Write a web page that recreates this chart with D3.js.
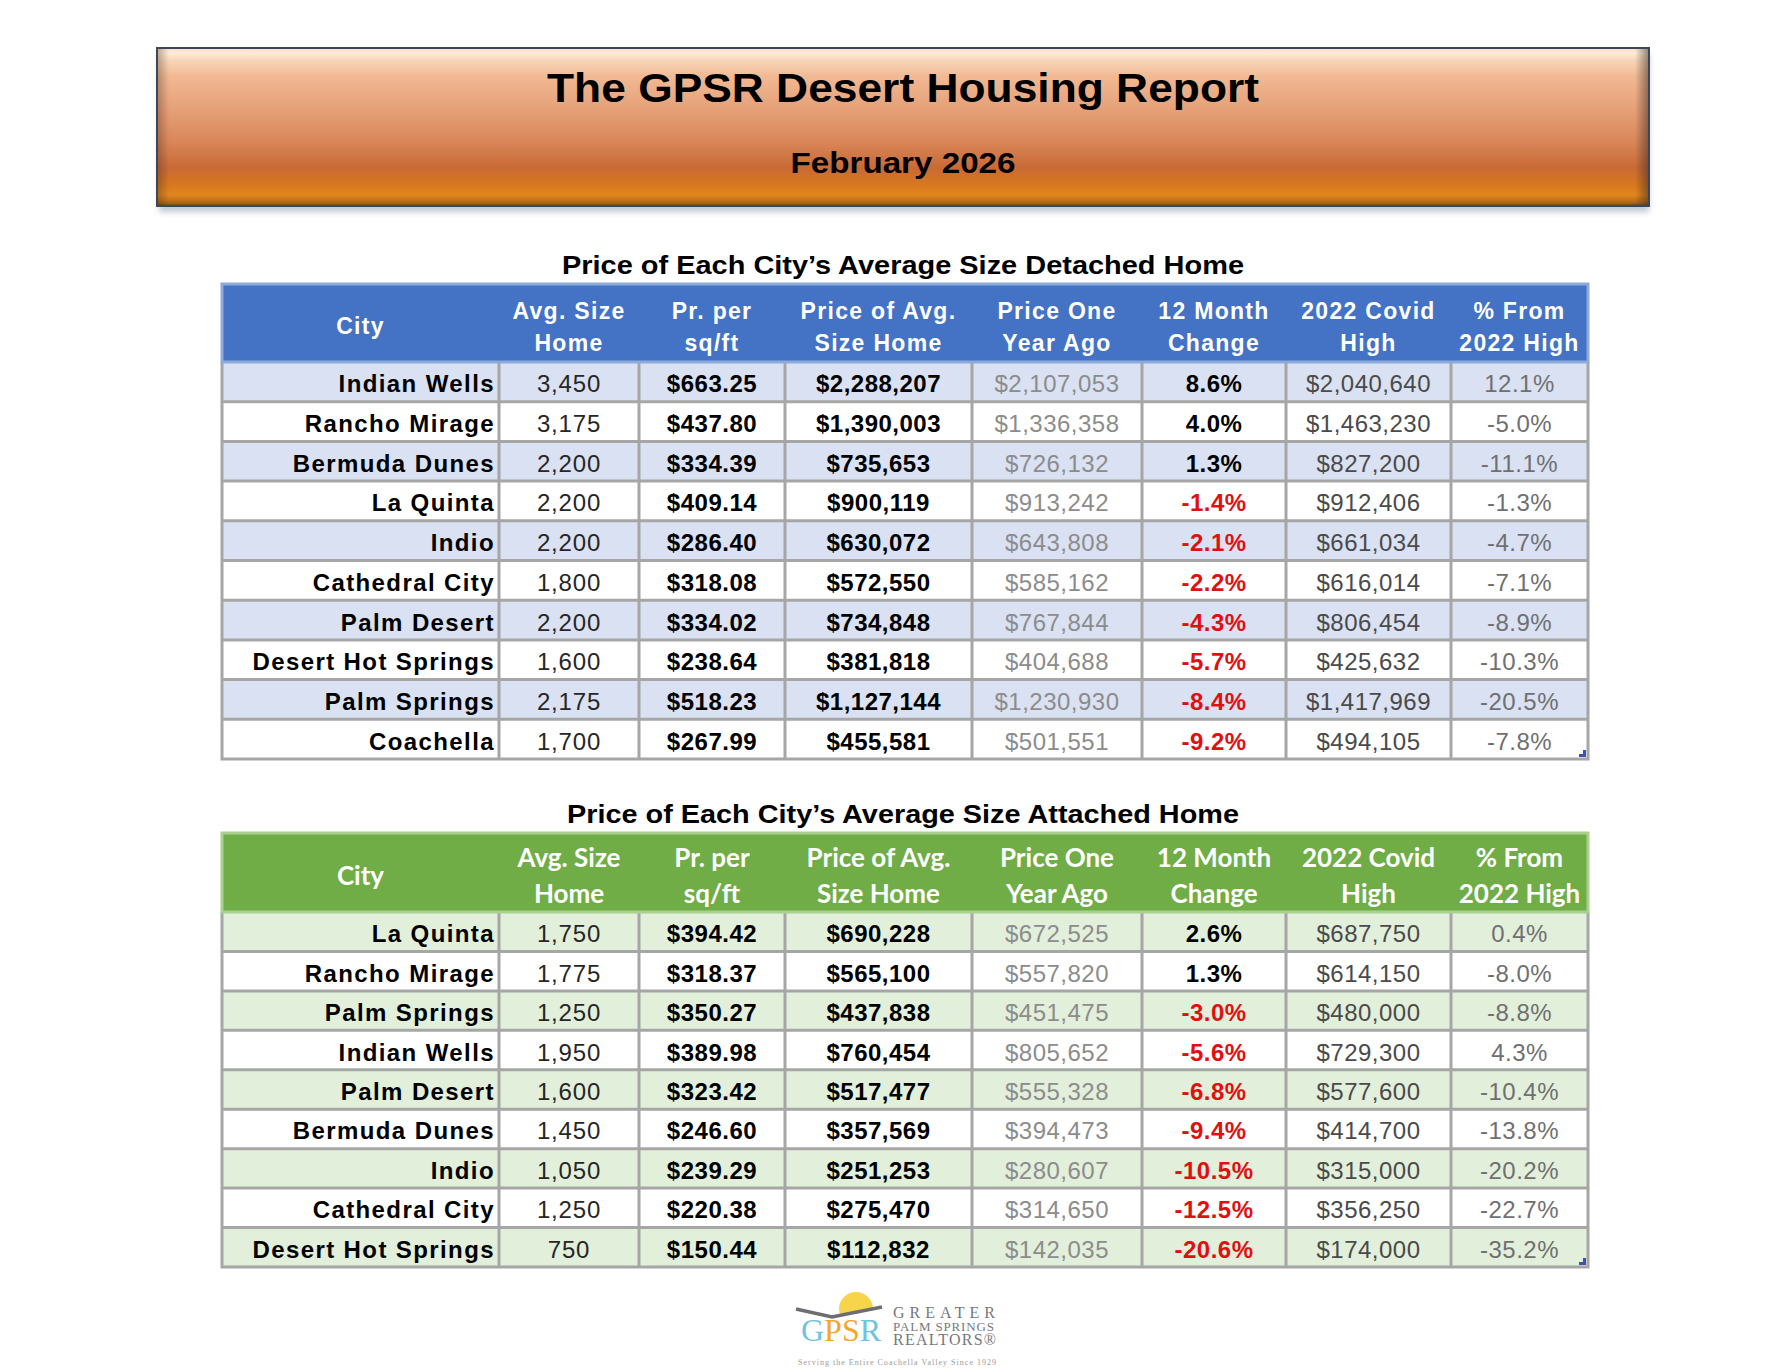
<!DOCTYPE html>
<html>
<head>
<meta charset="utf-8">
<script src="https://cdn.jsdelivr.net/npm/d3@7"></script>
<style>
  body { margin: 0; background: #fff; }
  svg { display: block; }
</style>
</head>
<body>
<div id="reporte"></div>
<script>
// Datos - casas independientes (detached)
const cities1 = ["Indian Wells", "Rancho Mirage", "Bermuda Dunes", "La Quinta", "Indio",
  "Cathedral City", "Palm Desert", "Desert Hot Springs", "Palm Springs", "Coachella"]
const avgSize1 = [3450, 3175, 2200, 2200, 2200, 1800, 2200, 1600, 2175, 1700]
const pricePerSqft1 = [663.25, 437.80, 334.39, 409.14, 286.40, 318.08, 334.02, 238.64, 518.23, 267.99]
const priceAvg1 = [2288207, 1390003, 735653, 900119, 630072, 572550, 734848, 381818, 1127144, 455581]
const priceYearAgo1 = [2107053, 1336358, 726132, 913242, 643808, 585162, 767844, 404688, 1230930, 501551]
const change1 = [8.6, 4.0, 1.3, -1.4, -2.1, -2.2, -4.3, -5.7, -8.4, -9.2]
const covidHigh1 = [2040640, 1463230, 827200, 912406, 661034, 616014, 806454, 425632, 1417969, 494105]
const fromHigh1 = [12.1, -5.0, -11.1, -1.3, -4.7, -7.1, -8.9, -10.3, -20.5, -7.8]

// Datos - casas adosadas (attached)
const cities2 = ["La Quinta", "Rancho Mirage", "Palm Springs", "Indian Wells", "Palm Desert",
  "Bermuda Dunes", "Indio", "Cathedral City", "Desert Hot Springs"]
const avgSize2 = [1750, 1775, 1250, 1950, 1600, 1450, 1050, 1250, 750]
const pricePerSqft2 = [394.42, 318.37, 350.27, 389.98, 323.42, 246.60, 239.29, 220.38, 150.44]
const priceAvg2 = [690228, 565100, 437838, 760454, 517477, 357569, 251253, 275470, 112832]
const priceYearAgo2 = [672525, 557820, 451475, 805652, 555328, 394473, 280607, 314650, 142035]
const change2 = [2.6, 1.3, -3.0, -5.6, -6.8, -9.4, -10.5, -12.5, -20.6]
const covidHigh2 = [687750, 614150, 480000, 729300, 577600, 414700, 315000, 356250, 174000]
const fromHigh2 = [0.4, -8.0, -8.8, 4.3, -10.4, -13.8, -20.2, -22.7, -35.2]

// Encabezados
const colKeys = ["city", "size", "sqft", "price", "ago", "change", "high", "from"]
const colHeaders = [["City"], ["Avg. Size", "Home"], ["Pr. per", "sq/ft"], ["Price of Avg.", "Size Home"],
  ["Price One", "Year Ago"], ["12 Month", "Change"], ["2022 Covid", "High"], ["% From", "2022 High"]]

const reportTitle = "The GPSR Desert Housing Report"
const reportMonth = "February 2026"
const title1 = "Price of Each City\u2019s Average Size Detached Home"
const title2 = "Price of Each City\u2019s Average Size Attached Home"

// Canvas
const anchoTotal = 1787
const altoTotal = 1372
const colEdges = [222, 499, 639, 785, 972, 1142, 1286, 1451, 1588]
const ARIAL = "'Liberation Sans', Arial, sans-serif"

// Formatos
const loc = d3.formatLocale({ decimal: ".", thousands: ",", grouping: [3], currency: ["$", ""], minus: "-" })
const fInt = loc.format(",")
const fMoney = loc.format("$,")
const fMoney2 = loc.format("$,.2f")
const fPct = v => loc.format(".1f")(v) + "%"

const svg = d3.select("#reporte").append("svg")
  .attr("width", anchoTotal)
  .attr("height", altoTotal)

svg.append("rect").attr("width", anchoTotal).attr("height", altoTotal).attr("fill", "#fff")

const defs = svg.append("defs")

// Gradiente del encabezado naranja
const grad = defs.append("linearGradient").attr("id", "naranja")
  .attr("x1", 0).attr("y1", 0).attr("x2", 0).attr("y2", 1)
;[[0, "#f9dfc8"], [0.03, "#fdebd9"], [0.08, "#f8d5b8"], [0.18, "#f1b993"], [0.38, "#e6a179"],
  [0.58, "#da885b"], [0.76, "#c96a36"], [0.86, "#d7771f"], [0.93, "#e3861d"], [0.975, "#b56a1f"], [1, "#6d4520"]]
  .forEach(([o, c]) => grad.append("stop").attr("offset", o).attr("stop-color", c))

const bevelR = defs.append("linearGradient").attr("id", "bevelR")
bevelR.append("stop").attr("offset", 0).attr("stop-color", "#3a2a22").attr("stop-opacity", 0)
bevelR.append("stop").attr("offset", 1).attr("stop-color", "#3a2a22").attr("stop-opacity", 0.55)
const bevelL = defs.append("linearGradient").attr("id", "bevelL")
bevelL.append("stop").attr("offset", 0).attr("stop-color", "#3a2a22").attr("stop-opacity", 0.35)
bevelL.append("stop").attr("offset", 1).attr("stop-color", "#3a2a22").attr("stop-opacity", 0)

defs.append("filter").attr("id", "sombra").attr("x", -0.05).attr("y", -0.2).attr("width", 1.1).attr("height", 1.5)
  .append("feGaussianBlur").attr("stdDeviation", 3)

// Caja de titulo
const box = { x: 157, y: 48, w: 1492, h: 158 }
svg.append("rect")
  .attr("x", box.x + 2).attr("y", box.y + 6).attr("width", box.w - 2).attr("height", box.h)
  .attr("fill", "#8c98b0").attr("opacity", 0.55).attr("filter", "url(#sombra)")
svg.append("rect")
  .attr("x", box.x).attr("y", box.y).attr("width", box.w).attr("height", box.h)
  .attr("fill", "url(#naranja)")
svg.append("rect")
  .attr("x", box.x + box.w - 14).attr("y", box.y).attr("width", 14).attr("height", box.h)
  .attr("fill", "url(#bevelR)")
svg.append("rect")
  .attr("x", box.x).attr("y", box.y).attr("width", 12).attr("height", box.h)
  .attr("fill", "url(#bevelL)")
svg.append("rect")
  .attr("x", box.x).attr("y", box.y).attr("width", box.w).attr("height", box.h)
  .attr("fill", "none").attr("stroke", "#3e4758").attr("stroke-width", 2)

svg.append("text")
  .attr("x", box.x + box.w / 2).attr("y", 102)
  .attr("text-anchor", "middle")
  .attr("font-family", ARIAL).attr("font-weight", "bold").attr("font-size", 41)
  .attr("textLength", 712).attr("lengthAdjust", "spacingAndGlyphs")
  .attr("fill", "#000")
  .text(reportTitle)

svg.append("text")
  .attr("x", box.x + box.w / 2).attr("y", 173)
  .attr("text-anchor", "middle")
  .attr("font-family", ARIAL).attr("font-weight", "bold").attr("font-size", 30)
  .attr("textLength", 225).attr("lengthAdjust", "spacingAndGlyphs")
  .attr("fill", "#000")
  .text(reportMonth)

// Tablas
function buildRows(cities, size, sqft, price, ago, change, high, from) {
  return cities.map((c, i) => ({
    city: c, size: size[i], sqft: sqft[i], price: price[i],
    ago: ago[i], change: change[i], high: high[i], from: from[i]
  }))
}

const colLeft = d3.scaleOrdinal().domain(colKeys).range(colEdges.slice(0, -1))
const colRight = d3.scaleOrdinal().domain(colKeys).range(colEdges.slice(1))
const colMid = k => (colLeft(k) + colRight(k)) / 2

const cellStyle = {
  city: { fmt: d => d, weight: "bold", color: () => "#000", spacing: 1.4 },
  size: { fmt: fInt, weight: "normal", color: () => "#262626", spacing: 0.8 },
  sqft: { fmt: fMoney2, weight: "bold", color: () => "#000", spacing: 0.5 },
  price: { fmt: fMoney, weight: "bold", color: () => "#000", spacing: 0.5 },
  ago: { fmt: fMoney, weight: "normal", color: () => "#8c8c8c", spacing: 0.5 },
  change: { fmt: fPct, weight: "bold", color: v => v < 0 ? "#e01010" : "#000", spacing: 0.5 },
  high: { fmt: fMoney, weight: "normal", color: () => "#4a4a4a", spacing: 0.5 },
  from: { fmt: fPct, weight: "normal", color: () => "#707070", spacing: 0.5 },
}

function drawTable(cfg) {
  const g = svg.append("g")
  const x0 = colEdges[0], x1 = colEdges[colEdges.length - 1]

  g.append("text")
    .attr("x", 903).attr("y", cfg.titleY)
    .attr("text-anchor", "middle")
    .attr("font-family", ARIAL).attr("font-weight", "bold").attr("font-size", 26)
    .attr("textLength", cfg.titleLen).attr("lengthAdjust", "spacingAndGlyphs")
    .attr("fill", "#000")
    .text(cfg.title)

  const y = d3.scaleBand()
    .domain(cfg.rows.map(d => d.city))
    .range([cfg.headBottom, cfg.bottom])

  // Filas
  g.selectAll("rect.fila").data(cfg.rows).join("rect")
    .attr("class", "fila")
    .attr("x", x0).attr("y", d => y(d.city))
    .attr("width", x1 - x0).attr("height", y.bandwidth())
    .attr("fill", (d, i) => i % 2 === 0 ? cfg.light : "#fff")

  // Lineas de la cuadricula
  const grid = "#a6a6a6"
  g.selectAll("line.h").data(cfg.rows.slice(1)).join("line")
    .attr("x1", x0).attr("x2", x1)
    .attr("y1", d => y(d.city)).attr("y2", d => y(d.city))
    .attr("stroke", grid).attr("stroke-width", 3)
  g.selectAll("line.v").data(colKeys.slice(1)).join("line")
    .attr("x1", d => colLeft(d)).attr("x2", d => colLeft(d))
    .attr("y1", cfg.headBottom).attr("y2", cfg.bottom)
    .attr("stroke", grid).attr("stroke-width", 3)
  g.append("path")
    .attr("d", `M${x0},${cfg.headBottom}V${cfg.bottom}H${x1}V${cfg.headBottom}`)
    .attr("fill", "none").attr("stroke", grid).attr("stroke-width", 3)

  // Encabezado
  g.append("rect")
    .attr("x", x0).attr("y", cfg.top)
    .attr("width", x1 - x0).attr("height", cfg.headBottom - cfg.top)
    .attr("fill", cfg.head).attr("stroke", cfg.headEdge).attr("stroke-width", 3)

  const heads = g.selectAll("text.head").data(colKeys).join("text")
    .attr("class", "head")
    .attr("text-anchor", "middle")
    .attr("font-family", cfg.headFont).attr("font-weight", "bold").attr("font-size", cfg.headSize)
    .attr("letter-spacing", cfg.headSpacing)
    .attr("fill", "#fff")
  heads.each(function (k, i) {
    const lines = colHeaders[i]
    const t = d3.select(this)
    lines.forEach((ln, j) => {
      t.append("tspan")
        .attr("x", colMid(k))
        .attr("y", lines.length === 1 ? cfg.headSingle : cfg.headLines[j])
        .text(ln)
    })
  })

  // Celdas
  const rowsG = g.selectAll("g.row").data(cfg.rows).join("g")
    .attr("class", "row")
    .attr("transform", d => `translate(0,${y(d.city) + y.bandwidth() / 2 + 10.5})`)
  colKeys.forEach(k => {
    const st = cellStyle[k]
    rowsG.append("text")
      .attr("x", k === "city" ? colRight(k) - 4 : colMid(k))
      .attr("text-anchor", k === "city" ? "end" : "middle")
      .attr("font-family", ARIAL).attr("font-size", 24)
      .attr("font-weight", st.weight)
      .attr("letter-spacing", st.spacing)
      .attr("fill", d => st.color(d[k]))
      .text(d => st.fmt(d[k]))
  })

  // Marca de esquina
  g.append("path")
    .attr("d", `M${x1 - 2},${cfg.bottom - 9}V${cfg.bottom - 2}H${x1 - 9}V${cfg.bottom - 5}H${x1 - 5}V${cfg.bottom - 9}Z`)
    .attr("fill", "#3f51b5")
}

drawTable({
  rows: buildRows(cities1, avgSize1, pricePerSqft1, priceAvg1, priceYearAgo1, change1, covidHigh1, fromHigh1),
  title: title1, titleY: 274, titleLen: 682,
  top: 284, headBottom: 362, bottom: 759,
  head: "#4472c4", headEdge: "#8eaadb", light: "#d9e1f2",
  headFont: ARIAL, headSize: 23, headSpacing: 1.3,
  headSingle: 334, headLines: [319, 351],
})

drawTable({
  rows: buildRows(cities2, avgSize2, pricePerSqft2, priceAvg2, priceYearAgo2, change2, covidHigh2, fromHigh2),
  title: title2, titleY: 823, titleLen: 672,
  top: 833, headBottom: 912, bottom: 1267,
  head: "#70ad47", headEdge: "#a9d08e", light: "#e2efda",
  headFont: "Lato, 'Open Sans', sans-serif", headSize: 26, headSpacing: 0,
  headSingle: 885, headLines: [867, 903],
})

// Logo GPSR
const logo = svg.append("g").attr("transform", "translate(796,1290)")
defs.append("clipPath").attr("id", "sobreTecho")
  .append("path").attr("d", "M0,0H90V17L36,27Z")
logo.append("circle")
  .attr("cx", 60).attr("cy", 19).attr("r", 17)
  .attr("fill", "#f6d54a")
  .attr("clip-path", "url(#sobreTecho)")
logo.append("path")
  .attr("d", "M0,19L36,27L86,17")
  .attr("fill", "none").attr("stroke", "#6d6e71").attr("stroke-width", 3.5)
const gpsr = logo.append("text")
  .attr("x", 5).attr("y", 51)
  .attr("font-family", "'Liberation Serif', 'DejaVu Serif', serif")
  .attr("font-size", 32)
;[["G", "#6cc4df"], ["P", "#f3a52c"], ["S", "#f3a52c"], ["R", "#6cc4df"]]
  .forEach(([ch, c]) => gpsr.append("tspan").attr("fill", c).text(ch))
const logoWords = [["GREATER", 28, 16, 102], ["PALM SPRINGS", 41, 13, 101], ["REALTORS\u00ae", 55, 16, 103]]
logoWords.forEach(([w, yy, fs, len]) => {
  logo.append("text")
    .attr("x", 97).attr("y", yy)
    .attr("font-family", "'Liberation Serif', 'DejaVu Serif', serif")
    .attr("font-size", fs)
    .attr("textLength", len).attr("lengthAdjust", "spacing")
    .attr("fill", "#77787b")
    .text(w)
})
logo.append("text")
  .attr("x", 2).attr("y", 75)
  .attr("font-family", "'Liberation Serif', serif")
  .attr("font-size", 8)
  .attr("textLength", 198).attr("lengthAdjust", "spacing")
  .attr("fill", "#9a9a9a")
  .text("Serving the Entire Coachella Valley Since 1929")
</script>
</body>
</html>
